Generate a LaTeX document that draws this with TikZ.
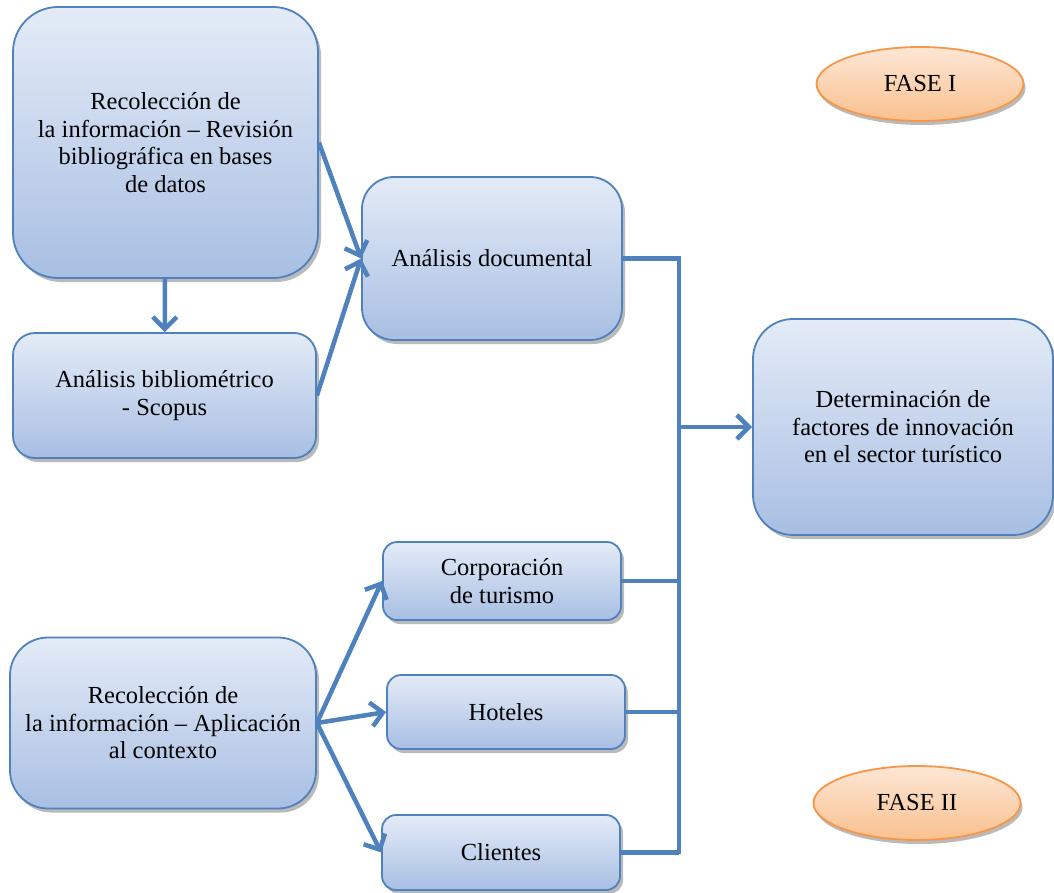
\documentclass[tikz,border=0pt]{standalone}
\usepackage{fontspec}
\setmainfont{Liberation Serif}
\usetikzlibrary{arrows.meta,shadows,shapes.geometric}
\definecolor{boxline}{HTML}{4F81BD}
\definecolor{boxtop}{HTML}{E4EBF7}
\definecolor{boxbot}{HTML}{A8BFE3}
\definecolor{faseline}{HTML}{F79646}
\definecolor{fasetop}{HTML}{FDE7D6}
\definecolor{fasebot}{HTML}{F9C08E}
\tikzset {>={Straight Barb[length=12pt,width=24pt]}}
\tikzset{
  box/.style={draw=boxline, line width=1.8pt, top color=boxtop, bottom color=boxbot,
    align=center, inner sep=0pt, font=\fontsize{24.5}{27.5}\selectfont,
    drop shadow={shadow xshift=3pt, shadow yshift=-4pt, opacity=.45, fill=black!60}},
  fase/.style={ellipse, draw=faseline, line width=1.8pt, top color=fasetop, bottom color=fasebot,
    inner sep=0pt, minimum width=207pt, minimum height=74pt, font=\fontsize{24.5}{27.5}\selectfont,
    drop shadow={shadow xshift=2pt, shadow yshift=-4pt, opacity=.45, fill=black!60}},
  link/.style={draw=boxline, line width=4.5pt}
}

\begin{document}
\begin{tikzpicture}[x=1pt,y=-1pt]
\useasboundingbox (0,0) rectangle (1054,893);

% First phase: literature
\node [box, minimum width=305pt, minimum height=271pt, rounded corners=45pt] (recol) at (165.5,142.5)
  {Recolección de\\la información – Revisión\\bibliográfica en bases\\de datos};
\node [box, minimum width=303pt, minimum height=125pt, rounded corners=22pt] (biblio) at (164.5,395.5)
  {Análisis bibliométrico\\- Scopus};
\node [box, minimum width=260pt, minimum height=163pt, rounded corners=32pt] (docum) at (492,258.5)
  {Análisis documental};

% Result
\node [box, minimum width=300pt, minimum height=216pt, rounded corners=40pt] (determ) at (903,427)
  {Determinación de\\factores de innovación\\en el sector turístico};

% Second phase: field work
\node [box, minimum width=306pt, minimum height=171pt, rounded corners=38pt] (aplic) at (163,723)
  {Recolección de\\la información – Aplicación\\al contexto};
\node [box, minimum width=238pt, minimum height=78pt, rounded corners=14pt] (corp) at (502,581)
  {Corporación\\de turismo};
\node [box, minimum width=238pt, minimum height=74pt, rounded corners=14pt] (hotel) at (506,712)
  {Hoteles};
\node [box, minimum width=238pt, minimum height=75pt, rounded corners=14pt] (client) at (501,852.5)
  {Clientes};

% Phase labels
\node [fase] (fase1) at (920,84) {FASE I};
\node [fase] (fase2) at (917,803) {FASE II};

% Arrows into the documental analysis
\draw [link,->] (recol) -- (biblio);
\draw [link,->] (recol.east) -- (docum.west);
\draw [link,->] (biblio.east) -- (docum.west);

% Arrows out of the field work box
\draw [link,->] (aplic.east) -- (corp.west);
\draw [link,->] (aplic.east) -- (hotel.west);
\draw [link,->] (aplic.east) -- (client.west);

% Collecting bus on the right
\coordinate (busTop) at (679,258.5);
\coordinate (busBot) at (679,854);
\coordinate (busMid) at (679,427);
\draw [link] (docum.east) -- (busTop) -- (busBot);
\draw [link] (corp.east) -- (corp.east -| busTop);
\draw [link] (hotel.east) -- (hotel.east -| busTop);
\draw [link] (client.east) -- (client.east -| busTop);
\draw [link,->] (busMid) -- (determ.west);
\end{tikzpicture}
\end{document}
